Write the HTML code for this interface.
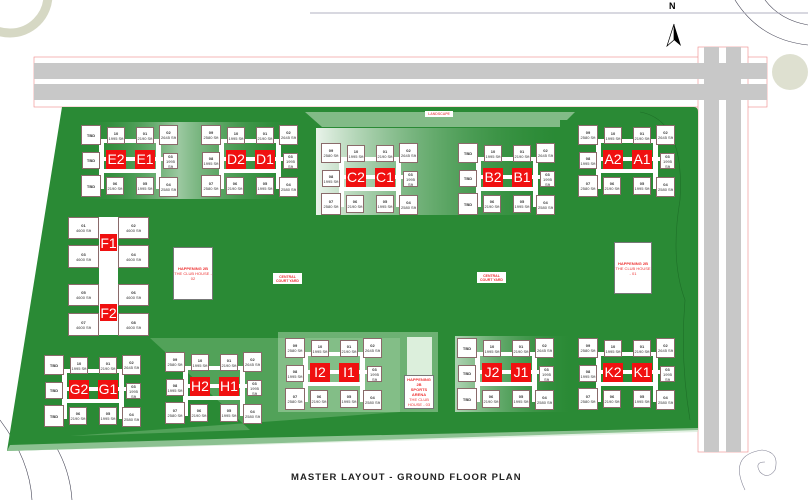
<!DOCTYPE html>
<html><head><meta charset="utf-8"><style>
body{margin:0;width:808px;height:500px;overflow:hidden;background:#fff;position:relative;font-family:"Liberation Sans",sans-serif}
.a{position:absolute}
.b{position:absolute;background:#fff;border:1px solid #8a6a6a;box-sizing:border-box;font-size:4px;line-height:5px;text-align:center;color:#333;display:flex;flex-direction:column;justify-content:center;font-weight:bold}
.r{position:absolute;background:#f01010;color:#fff;font-size:14px;line-height:18px;text-align:center;font-weight:normal}
.lbl{position:absolute;background:#fff;color:#e33;font-size:3.5px;line-height:4px;text-align:center;font-weight:bold;display:flex;flex-direction:column;justify-content:center}
</style></head><body>
<svg class="a" style="left:0;top:0" width="808" height="500">
<defs>
<linearGradient id="lg" x1="0" x2="1"><stop offset="0" stop-color="#e9f3ea"/><stop offset="1" stop-color="#2a8a35" stop-opacity="0.2"/></linearGradient>
<linearGradient id="lg2" x1="0" x2="1"><stop offset="0" stop-color="#2a8a35" stop-opacity="0"/><stop offset="0.45" stop-color="#e9f3ea" stop-opacity="0.85"/><stop offset="1" stop-color="#2a8a35" stop-opacity="0"/></linearGradient>
</defs>
<circle cx="10" cy="-5" r="38" fill="none" stroke="#d6d8c4" stroke-width="9"/>
<circle cx="790" cy="72" r="18" fill="#d6d8c4" opacity="0.8"/>
<path d="M735 0 Q760 40 808 45" fill="none" stroke="#445" stroke-width="0.6"/>
<path d="M765 0 Q780 20 808 25" fill="none" stroke="#445" stroke-width="0.6"/>
<path d="M0 420 Q30 460 32 500" fill="none" stroke="#445" stroke-width="0.6"/>
<path d="M55 445 Q70 470 72 500" fill="none" stroke="#445" stroke-width="0.6"/>
<path d="M745 490 Q728 455 762 450 Q780 452 775 470 Q768 480 760 472 Q754 462 765 462" fill="none" stroke="#889" stroke-width="0.6"/>
<line x1="310" y1="13" x2="808" y2="13" stroke="#aab" stroke-width="1.5" opacity="0.6"/>
<rect x="34" y="57" width="733" height="50" fill="#fff" stroke="#e88" stroke-width="0.6"/>
<rect x="698" y="47" width="50" height="405" fill="#fff" stroke="#e88" stroke-width="0.6"/>
<rect x="34" y="63" width="733" height="16" fill="#c8c8c8"/>
<rect x="34" y="84" width="733" height="16" fill="#c8c8c8"/>
<rect x="704" y="47" width="15" height="405" fill="#c8c8c8"/>
<rect x="726" y="47" width="15" height="405" fill="#c8c8c8"/>
<rect x="704" y="63" width="37" height="37" fill="#c8c8c8"/>
<path d="M62 107 L694 107 Q698 107 698 112 L698 430 L250 444 L7 451 Z" fill="#2a8a35"/>
<path d="M305 112 L322 127 L560 127 L575 112 Z" fill="#d9ecd9" opacity="0.5"/>
<rect x="316" y="128" width="240" height="87" fill="url(#lg)"/>
<rect x="80" y="122" width="220" height="77" fill="url(#lg2)" opacity="0.7"/>
<rect x="560" y="120" width="130" height="80" fill="#2a8a35"/>
<rect x="155" y="200" width="150" height="15" fill="#2a8a35"/>
<rect x="40" y="340" width="130" height="90" fill="#2a8a35"/>
<path d="M150 338 L400 338 L400 412 L70 436 L250 430 Z" fill="#9fcf9f" opacity="0.35"/>
<rect x="278" y="332" width="160" height="80" fill="#bfe0bf" opacity="0.45"/>
<rect x="455" y="336" width="115" height="76" fill="url(#lg)" opacity="0.7"/>
<rect x="407" y="337" width="25" height="40" fill="#dcefdc"/>
<path d="M640 112 Q685 120 680 200 Q670 260 685 300 Q680 360 690 420" fill="none" stroke="#1e6f28" stroke-width="0.6"/>
<path d="M10 445 L250 438 L698 428 L698 432 L250 445 L7 451Z" fill="#cfe6cf" opacity="0.6"/>
<path d="M667 46 L674 24 L681 46 L674 40 Z" fill="#000"/>
<path d="M667 46 L674 24 L674 40 Z" fill="#fff" stroke="#000" stroke-width="0.7"/>
</svg>
<div class="a" style="left:669px;top:1px;font-size:9px;font-weight:bold">N</div>
<div class="lbl" style="left:425px;top:111px;width:28px;height:6px;color:#e66">LANDSCAPE</div>
<div class="b" style="left:173px;top:247px;width:40px;height:53px;border-color:#777"><span style="color:#e33">HAPPENING 2B</span><span style="color:#e33;font-weight:normal">THE CLUB HOUSE - 02</span></div>
<div class="b" style="left:614px;top:242px;width:38px;height:52px;border-color:#777"><span style="color:#e33">HAPPENING 2B</span><span style="color:#e33;font-weight:normal">THE CLUB HOUSE - 01</span></div>
<div class="b" style="left:404px;top:375px;width:30px;height:34px;border-color:#777"><span style="color:#e33">HAPPENING 2B<br>SPORTS ARENA</span><span style="color:#e33;font-weight:normal">THE CLUB HOUSE - 03</span></div>
<div class="lbl" style="left:273px;top:273px;width:29px;height:11px">CENTRAL<br>COURT YARD</div>
<div class="lbl" style="left:477px;top:272px;width:29px;height:11px">CENTRAL<br>COURT YARD</div>
<div class="a" style="left:291px;top:472px;width:230px;white-space:nowrap;font-size:9.5px;font-weight:bold;letter-spacing:1.05px;color:#222">MASTER LAYOUT - GROUND FLOOR PLAN</div>
<div id="c"></div>
<script>
var c=document.getElementById('c');
function add(cls,x,y,w,h,html){var d=document.createElement('div');d.className=cls;d.style.cssText='left:'+x+'px;top:'+y+'px;width:'+w+'px;height:'+h+'px';d.innerHTML=html;c.appendChild(d);}
function t(n,s){return '<span>'+n+'</span><span style="font-weight:normal">'+s+'</span>';}
function cl(x,y,l2,l1,tbd){
 add('a',x+18,y+14,62,4,'');c.lastChild.style.background='#fff';
 add('a',x+20,y+44,60,4,'');c.lastChild.style.background='#fff';
 add('a',x+18,y+14,5,50,'');c.lastChild.style.background='#fff';
 add('a',x+75,y+14,5,50,'');c.lastChild.style.background='#fff';
 add('a',x+8,y+32,85,4,'');c.lastChild.style.background='#fff';
 add('b',x,y,20,20,tbd?'TBD':t('09','2580 Sft'));
 add('b',x+26,y+2,18,17,t('10','1995 Sft'));
 add('b',x+55,y+2,18,17,t('01','2190 Sft'));
 add('b',x+78,y,19,20,t('02','2645 Sft'));
 add('b',x+1,y+27,18,17,tbd?'TBD':t('08','1995 Sft'));
 add('r',x+25,y+25,20,19,l2);
 add('r',x+54,y+25,20,19,l1);
 add('b',x+82,y+28,15,16,t('03','1995 Sft'));
 add('b',x,y+50,20,22,tbd?'TBD':t('07','2580 Sft'));
 add('b',x+25,y+52,18,18,t('06','2190 Sft'));
 add('b',x+55,y+52,18,18,t('05','1995 Sft'));
 add('b',x+78,y+52,19,20,t('04','2580 Sft'));
}
cl(81,125,'E2','E1',1);cl(201,125,'D2','D1',0);cl(321,143,'C2','C1',0);cl(458,143,'B2','B1',1);cl(578,125,'A2','A1',0);
cl(44,355,'G2','G1',1);cl(165,352,'H2','H1',0);cl(285,338,'I2','I1',0);cl(457,338,'J2','J1',1);cl(578,338,'K2','K1',0);
add('a',99,217,19,118,'');c.lastChild.style.background='#fff';
var fy=[217,245,284,313],fn=[['01','02'],['03','04'],['05','06'],['07','08']];
for(var i=0;i<4;i++){add('b',68,fy[i],31,i%2?23:22,t(fn[i][0],'4600 Sft'));add('b',118,fy[i],31,i%2?23:22,t(fn[i][1],'4600 Sft'));}
add('r',100,234,17,17,'F1');add('r',100,304,17,17,'F2');
</script>
</body></html>
